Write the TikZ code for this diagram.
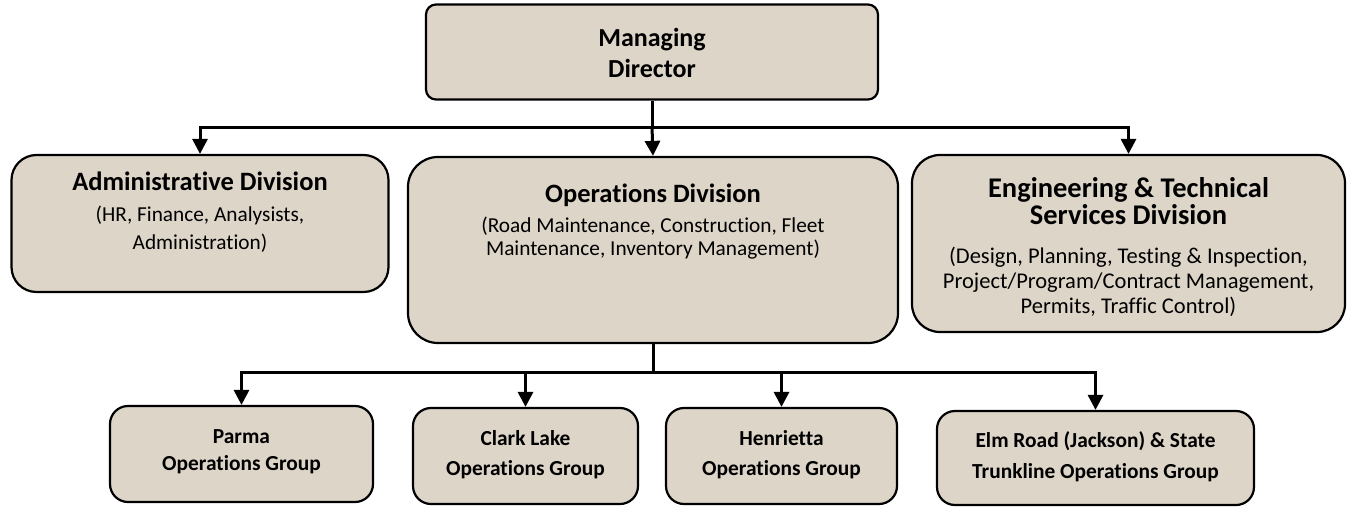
\documentclass[tikz,border=0pt]{standalone}
\usepackage{fontspec}
\setmainfont{Carlito}[Ligatures={NoCommon}]
\usetikzlibrary{arrows.meta}
\definecolor{parch}{RGB}{221,213,200}
\tikzset{
  box/.style={draw=black, line width=2.2pt, fill=parch, inner sep=0pt},
  conn/.style={line width=3pt, -{Triangle[width=15pt,length=15pt]}},
  line/.style={line width=3pt},
  dirt/.style={font=\bfseries\fontsize{26}{30}\selectfont, anchor=base, inner sep=0pt},
  ttl/.style={font=\bfseries\fontsize{26.5}{30}\selectfont, anchor=base, inner sep=0pt},
  sub/.style={font=\fontsize{21.3}{25}\selectfont, anchor=base, inner sep=0pt},
  ettl/.style={font=\bfseries\fontsize{28.5}{30}\selectfont, anchor=base, inner sep=0pt},
  esub/.style={font=\fontsize{22.5}{25}\selectfont, anchor=base, inner sep=0pt},
  grp/.style={font=\bfseries\fontsize{21.4}{25}\selectfont, anchor=base, inner sep=0pt},
}
\begin{document}
\begin{tikzpicture}[x=1pt,y=-1pt]
\useasboundingbox (0,0) rectangle (1351,506);
% boxes
\node[box, rounded corners=10pt, minimum width=452pt, minimum height=95pt] (dir) at (652,52) {};
\node[box, rounded corners=25pt, minimum width=377pt, minimum height=137pt] (adm) at (200,223.5) {};
\node[box, rounded corners=30pt, minimum width=490pt, minimum height=186pt] (ops) at (653,250) {};
\node[box, rounded corners=28pt, minimum width=433pt, minimum height=177pt] (eng) at (1128.5,243.5) {};
\node[box, rounded corners=18pt, minimum width=263pt, minimum height=96pt] (par) at (241.5,454) {};
\node[box, rounded corners=18pt, minimum width=225pt, minimum height=96pt] (clk) at (525.5,456) {};
\node[box, rounded corners=18pt, minimum width=231pt, minimum height=96pt] (hen) at (781.5,456) {};
\node[box, rounded corners=18pt, minimum width=317pt, minimum height=94pt] (elm) at (1095.5,458) {};
% texts
\node[dirt] (tdir1) at (652,46) {Managing};
\node[dirt] (tdir2) at (652,77) {Director};
\node[ttl] (tadm) at (200,190) {Administrative Division};
\node[sub] (sadm1) at (200,221) {(HR, Finance, Analysists,};
\node[sub] (sadm2) at (200,249) {Administration)};
\node[ttl] (tops) at (653,202) {Operations Division};
\node[sub] (sops1) at (653,232) {(Road Maintenance, Construction, Fleet};
\node[sub] (sops2) at (653,255) {Maintenance, Inventory Management)};
\node[ettl] (teng1) at (1128.5,197) {Engineering \& Technical};
\node[ettl] (teng2) at (1128.5,224) {Services Division};
\node[esub] (seng1) at (1128.5,263) {(Design, Planning, Testing \& Inspection,};
\node[esub] (seng2) at (1128.5,288) {Project/Program/Contract Management,};
\node[esub] (seng3) at (1128.5,313) {Permits, Traffic Control)};
\node[grp] (tpar1) at (241.5,443) {Parma};
\node[grp] (tpar2) at (241.5,470) {Operations Group};
\node[grp] (tclk1) at (525.5,445) {Clark Lake};
\node[grp] (tclk2) at (525.5,475) {Operations Group};
\node[grp] (then1) at (781.5,445) {Henrietta};
\node[grp] (then2) at (781.5,475) {Operations Group};
\node[grp] (telm1) at (1095.5,447) {Elm Road (Jackson) \& State};
\node[grp] (telm2) at (1095.5,478) {Trunkline Operations Group};
% connectors
\coordinate (j1) at (652,127);
\coordinate (j2) at (653,372);
\draw[line] (dir.south) -- (j1);
\draw[conn] (j1) -- (ops.north);
\draw[conn] (j1) -| (adm.north);
\draw[conn] (j1) -| (eng.north);
\draw[line] (ops.south) -- (j2);
\draw[conn] (j2) -| (par.north);
\draw[conn] (j2) -| (clk.north);
\draw[conn] (j2) -| (hen.north);
\draw[conn] (j2) -| (elm.north);
\end{tikzpicture}
\end{document}
